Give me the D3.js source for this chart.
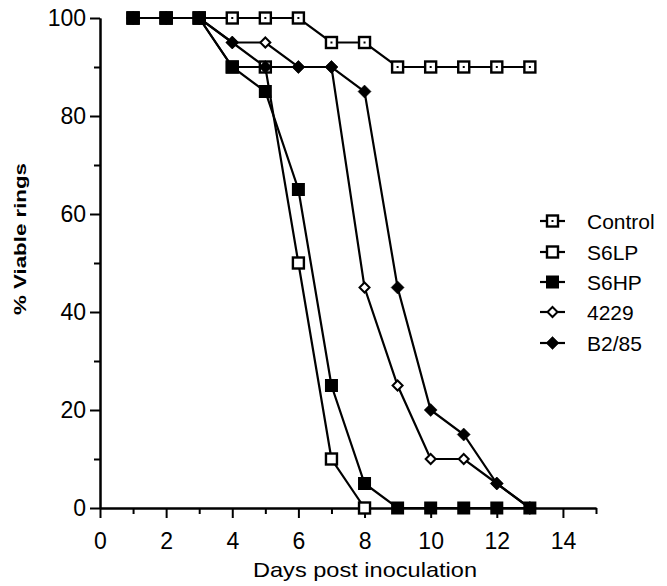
<!DOCTYPE html>
<html>
<head>
<meta charset="utf-8">
<script src="https://cdn.jsdelivr.net/npm/d3@7"></script>
<style>
  html, body { margin: 0; padding: 0; background: #fff; }
  svg { display: block; }
  text { font-family: "Liberation Sans", Arial, sans-serif; fill: #000; }
</style>
</head>
<body>
<svg id="chart" width="667" height="586"></svg>
<script>
// Days after inoculation and percentage of viable rings per isolate
const days = [1, 2, 3, 4, 5, 6, 7, 8, 9, 10, 11, 12, 13];
const control = [100, 100, 100, 100, 100, 100, 95, 95, 90, 90, 90, 90, 90];
const s6lp    = [100, 100, 100, 90, 90, 50, 10, 0];
const s6hp    = [100, 100, 100, 90, 85, 65, 25, 5, 0, 0, 0, 0, 0];
const i4229   = [100, 100, 100, 95, 95, 90, 90, 45, 25, 10, 10, 5, 0];
const b285    = [100, 100, 100, 95, 90, 90, 90, 85, 45, 20, 15, 5, 0];

const seriesNames = ["Control", "S6LP", "S6HP", "4229", "B2/85"];
const seriesValues = [control, s6lp, s6hp, i4229, b285];
const markerKinds = ["squareDot", "squareOpen", "squareFilled", "diamondOpen", "diamondFilled"];

const xTicksMajor = [0, 2, 4, 6, 8, 10, 12, 14];
const xTicksMinor = [1, 3, 5, 7, 9, 11, 13, 15];
const yTicksMajor = [0, 20, 40, 60, 80, 100];
const yTicksMinor = [10, 30, 50, 70, 90];

const svg = d3.select("#chart");
const x = d3.scaleLinear().domain([0, 15]).range([100, 596]);
const y = d3.scaleLinear().domain([0, 100]).range([508, 18]);

// Axes
const axisStyle = g => {
  g.selectAll("path.domain").attr("stroke", "#000").attr("stroke-width", 2);
  g.selectAll(".tick line").attr("stroke", "#000").attr("stroke-width", 2);
};

svg.append("g")
  .attr("transform", `translate(0,${y(0)})`)
  .call(d3.axisBottom(x).tickValues(xTicksMinor).tickSize(6).tickSizeOuter(0).tickFormat(""))
  .call(axisStyle);

const gx = svg.append("g")
  .attr("transform", `translate(0,${y(0)})`)
  .call(d3.axisBottom(x).tickValues(xTicksMajor).tickSize(10).tickSizeOuter(0))
  .call(axisStyle);
gx.selectAll(".tick text")
  .attr("y", 25).attr("dy", "0.71em")
  .style("font-size", "23px")
  .style("font-family", "'Liberation Sans', Arial, sans-serif");

svg.append("g")
  .attr("transform", `translate(${x(0)},0)`)
  .call(d3.axisLeft(y).tickValues(yTicksMinor).tickSize(6).tickSizeOuter(0).tickFormat(""))
  .call(axisStyle);

const gy = svg.append("g")
  .attr("transform", `translate(${x(0)},0)`)
  .call(d3.axisLeft(y).tickValues(yTicksMajor).tickSize(10).tickSizeOuter(0))
  .call(axisStyle);
gy.selectAll(".tick text")
  .attr("x", -14)
  .style("font-size", "23px")
  .style("font-family", "'Liberation Sans', Arial, sans-serif");

// Axis titles
svg.append("text")
  .attr("x", 365).attr("y", 577)
  .attr("text-anchor", "middle")
  .attr("textLength", 224).attr("lengthAdjust", "spacingAndGlyphs")
  .style("font-size", "21px")
  .text("Days post inoculation");

svg.append("text")
  .attr("transform", "translate(26,239) rotate(-90)")
  .attr("text-anchor", "middle")
  .attr("textLength", 152).attr("lengthAdjust", "spacingAndGlyphs")
  .style("font-size", "17px").style("font-weight", "bold")
  .text("% Viable rings");

// Marker drawing
function drawMarker(g, kind, cx, cy) {
  if (kind.startsWith("square")) {
    const s = kind === "squareFilled" ? 13 : 11;
    g.append("rect")
      .attr("x", cx - s / 2).attr("y", cy - s / 2)
      .attr("width", s).attr("height", s)
      .attr("fill", kind === "squareFilled" ? "#000" : "#fff")
      .attr("stroke", "#000").attr("stroke-width", kind === "squareFilled" ? 0 : 2.4);
    if (kind === "squareDot") {
      g.append("rect").attr("x", cx - 1).attr("y", cy - 1)
        .attr("width", 2).attr("height", 2).attr("fill", "#000");
    }
  } else {
    const r = kind === "diamondFilled" ? 6.5 : 5;
    g.append("path")
      .attr("d", `M${cx},${cy - r}L${cx + r},${cy}L${cx},${cy + r}L${cx - r},${cy}Z`)
      .attr("fill", kind === "diamondFilled" ? "#000" : "#fff")
      .attr("stroke", "#000").attr("stroke-width", kind === "diamondFilled" ? 0.5 : 2);
  }
}

const line = d3.line().x(d => x(d[0])).y(d => y(d[1]));

// Lines first, then markers on top, series in legend order
seriesValues.forEach((vals, i) => {
  const pts = vals.map((v, j) => [days[j], v]);
  svg.append("path").datum(pts)
    .attr("d", line)
    .attr("fill", "none").attr("stroke", "#000").attr("stroke-width", 2.2);
});
seriesValues.forEach((vals, i) => {
  const g = svg.append("g");
  vals.forEach((v, j) => drawMarker(g, markerKinds[i], x(days[j]), y(v)));
});

// Legend
const legendY = [221, 252, 282, 312, 343];
seriesNames.forEach((name, i) => {
  const g = svg.append("g");
  g.append("line").attr("x1", 540).attr("x2", 565)
    .attr("y1", legendY[i]).attr("y2", legendY[i])
    .attr("stroke", "#000").attr("stroke-width", 2.2);
  drawMarker(g, markerKinds[i], 552.5, legendY[i]);
  g.append("text")
    .attr("x", 587).attr("y", legendY[i]).attr("dy", "0.36em")
    .style("font-size", "21px")
    .text(name);
});
</script>
</body>
</html>
